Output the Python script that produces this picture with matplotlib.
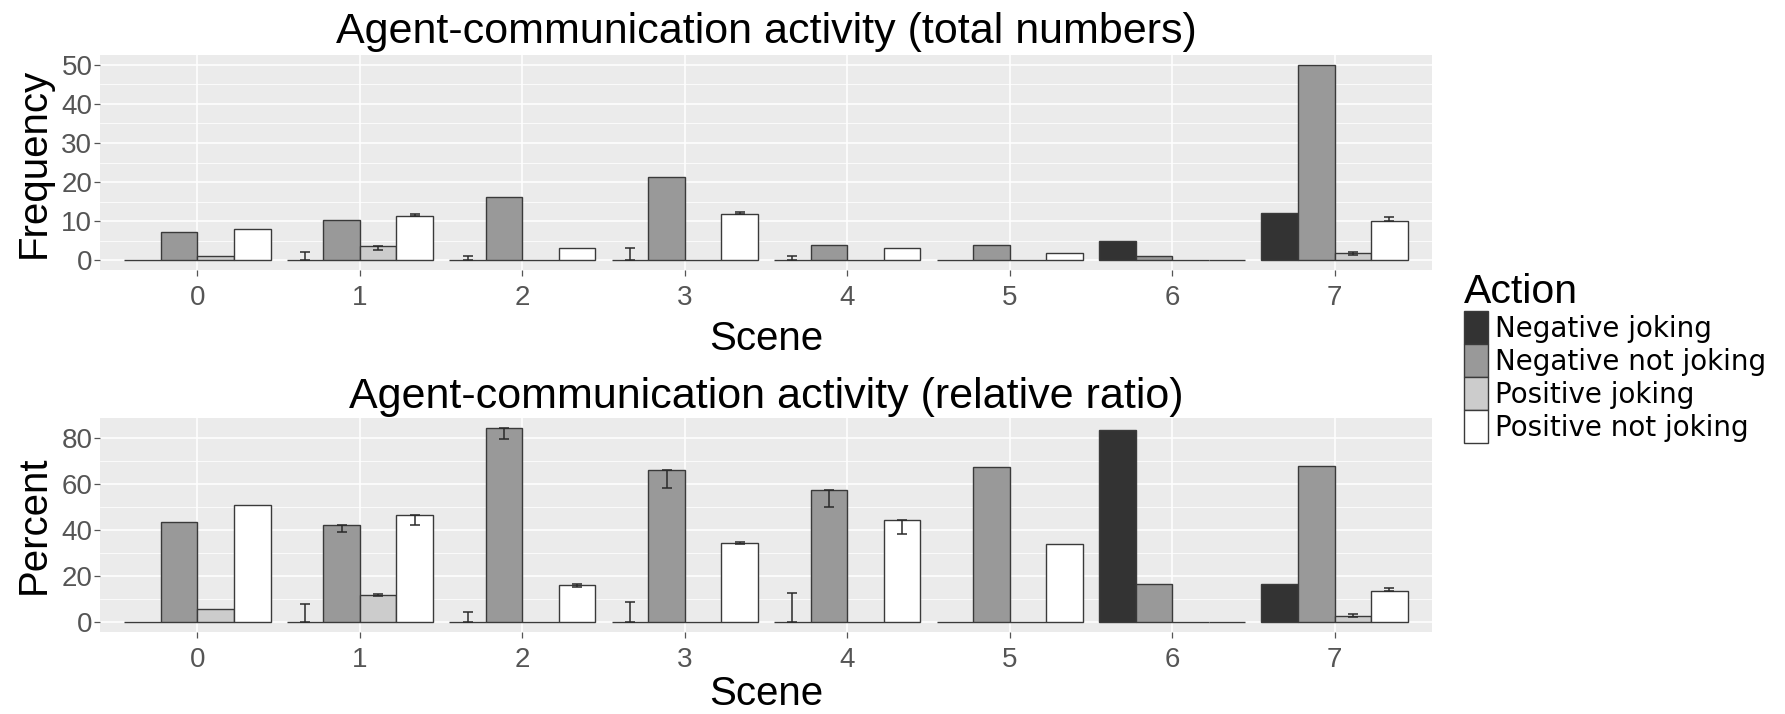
import numpy as np
import matplotlib
matplotlib.use("Agg")
import matplotlib.pyplot as plt
from matplotlib.ticker import MultipleLocator

# ---------------- data ----------------
scenes = [0, 1, 2, 3, 4, 5, 6, 7]
actions = ["Negative joking", "Negative not joking", "Positive joking", "Positive not joking"]

# total numbers (Frequency)
freq_nj = [0, 0, 0, 0, 0, 0, 5.0, 12.0]
freq_nnj = [7.3, 10.2, 16.3, 21.3, 3.9, 3.9, 1.1, 50.0]
freq_pj = [1.1, 3.6, 0, 0, 0, 0, 0, 1.9]
freq_pnj = [8.0, 11.4, 3.2, 11.7, 3.2, 1.9, 0, 10.0]
# error bars (lower, upper amounts)
freq_nj_lo = [0, 0, 0, 0, 0, 0, 0, 0]
freq_nj_hi = [0, 2.1, 1.1, 3.1, 1.1, 0, 0, 0]
freq_nnj_lo = [0, 0, 0, 0, 0, 0, 0, 0]
freq_nnj_hi = [0, 0, 0, 0, 0, 0, 0, 0]
freq_pj_lo = [0, 1.1, 0, 0, 0, 0, 0, 0.5]
freq_pj_hi = [0, 0, 0, 0, 0, 0, 0, 0.3]
freq_pnj_lo = [0, 0, 0, 0, 0, 0, 0, 0]
freq_pnj_hi = [0, 0.3, 0, 0.6, 0, 0, 0, 1.0]

# relative ratio (Percent)
pct_nj = [0, 0, 0, 0, 0, 0, 83.5, 16.5]
pct_nnj = [43.6, 42.0, 84.2, 66.0, 57.3, 67.2, 16.8, 67.7]
pct_pj = [5.8, 11.8, 0, 0, 0, 0, 0, 2.8]
pct_pnj = [50.7, 46.3, 16.1, 34.3, 44.3, 33.8, 0, 13.7]
pct_nj_lo = [0, 0, 0, 0, 0, 0, 0, 0]
pct_nj_hi = [0, 7.8, 4.4, 9.0, 12.5, 0, 0, 0]
pct_nnj_lo = [0, 3.0, 4.7, 7.9, 7.4, 0, 0, 0]
pct_nnj_hi = [0, 0, 0, 0, 0, 0, 0, 0]
pct_pj_lo = [0, 0.5, 0, 0, 0, 0, 0, 0.7]
pct_pj_hi = [0, 0.5, 0, 0, 0, 0, 0, 0.7]
pct_pnj_lo = [0, 4.1, 0.7, 0.3, 6.0, 0, 0, 0]
pct_pnj_hi = [0, 0, 0.7, 0.3, 0, 0, 0, 1.3]

# ---------------- style ----------------
fills = ["#333333", "#999999", "#cccccc", "#ffffff"]
edge = "#3a3a3a"
panel_bg = "#EBEBEB"
tick_col = "#555555"
SANS = ["Liberation Sans", "DejaVu Sans"]

W, H = 1785, 714
fig = plt.figure(figsize=(W / 100, H / 100), dpi=100)

def px_axes(left, top, right, bottom):
    return fig.add_axes([left / W, 1 - bottom / H, (right - left) / W, (bottom - top) / H])

ax1 = px_axes(100, 55, 1432, 270)
ax2 = px_axes(100, 418, 1432, 632)

def draw_panel(ax, series, errs, ylim, major, minor, ylabel, title, title_base_px,
               xlabel_base_px, axes_bottom_px, axes_h_px):
    ax.set_facecolor(panel_bg)
    for s in ax.spines.values():
        s.set_visible(False)
    ax.set_axisbelow(True)
    ax.yaxis.set_major_locator(MultipleLocator(major))
    ax.yaxis.set_minor_locator(MultipleLocator(minor))
    ax.grid(which="major", axis="both", color="white", lw=1.1)
    ax.grid(which="minor", axis="y", color="white", lw=0.55)
    x = np.arange(len(scenes))
    bw = 0.9 / 4
    bars = []
    for i, (vals, (lo, hi)) in enumerate(zip(series, errs)):
        pos = x + (i - 1.5) * bw
        b = ax.bar(pos, vals, width=bw, color=fills[i], edgecolor=edge, lw=1.0,
                   label=actions[i], zorder=2)
        bars.append(b)
        lo = np.asarray(lo, float)
        hi = np.asarray(hi, float)
        m = (lo + hi) > 0
        if m.any():
            ax.errorbar(pos[m], np.asarray(vals, float)[m], yerr=[lo[m], hi[m]],
                        fmt="none", ecolor="#2a2a2a", elinewidth=1.1,
                        capsize=3.6, capthick=1.1, zorder=3)
    ax.set_xlim(-0.6, len(scenes) - 0.4)
    ax.set_ylim(*ylim)
    ax.set_xticks(x)
    ax.set_xticklabels([str(s) for s in scenes])
    ax.tick_params(axis="both", which="major", length=4, width=0.9, color="#555555",
                   labelcolor=tick_col, labelsize=20)
    ax.tick_params(axis="x", which="major", pad=6.5)
    ax.tick_params(axis="y", which="major", pad=1.5)
    for lab in ax.get_xticklabels() + ax.get_yticklabels():
        lab.set_family(SANS)
    ax.tick_params(axis="y", which="minor", length=0)
    ax.set_ylabel(ylabel, fontsize=29, family=SANS, color="black")
    ax.yaxis.set_label_coords((45 - 100) / 1332, 0.5)
    ax.yaxis.label.set_va("baseline")
    ax.set_xlabel("Scene", fontsize=29, family=SANS, color="black")
    ax.xaxis.set_label_coords(0.5, -(xlabel_base_px - axes_bottom_px) / axes_h_px)
    ax.xaxis.label.set_va("baseline")
    fig.text((100 + 1432) / 2 / W, 1 - title_base_px / H, title, fontsize=31,
             family=SANS, ha="center", va="baseline", color="black")
    return bars

bars = draw_panel(
    ax1,
    [freq_nj, freq_nnj, freq_pj, freq_pnj],
    [(freq_nj_lo, freq_nj_hi), (freq_nnj_lo, freq_nnj_hi),
     (freq_pj_lo, freq_pj_hi), (freq_pnj_lo, freq_pnj_hi)],
    (-2.5, 52.5), 10, 5, "Frequency",
    "Agent-communication activity (total numbers)", 43, 350, 270, 215)

draw_panel(
    ax2,
    [pct_nj, pct_nnj, pct_pj, pct_pnj],
    [(pct_nj_lo, pct_nj_hi), (pct_nnj_lo, pct_nnj_hi),
     (pct_pj_lo, pct_pj_hi), (pct_pnj_lo, pct_pnj_hi)],
    (-4.2, 88.5), 20, 10, "Percent",
    "Agent-communication activity (relative ratio)", 408, 705, 632, 214)

leg = fig.legend(handles=bars, labels=actions, loc="upper left",
                 bbox_to_anchor=(1464 / W, 1 - 273 / H),
                 frameon=False, borderpad=0, borderaxespad=0,
                 handlelength=0.88, handleheight=1.45, handletextpad=0.25,
                 labelspacing=0, prop={"family": "DejaVu Sans", "size": 20},
                 title="Action",
                 title_fontproperties={"family": SANS, "size": 29.5},
                 alignment="left")

fig.savefig("out.png", dpi=100)
